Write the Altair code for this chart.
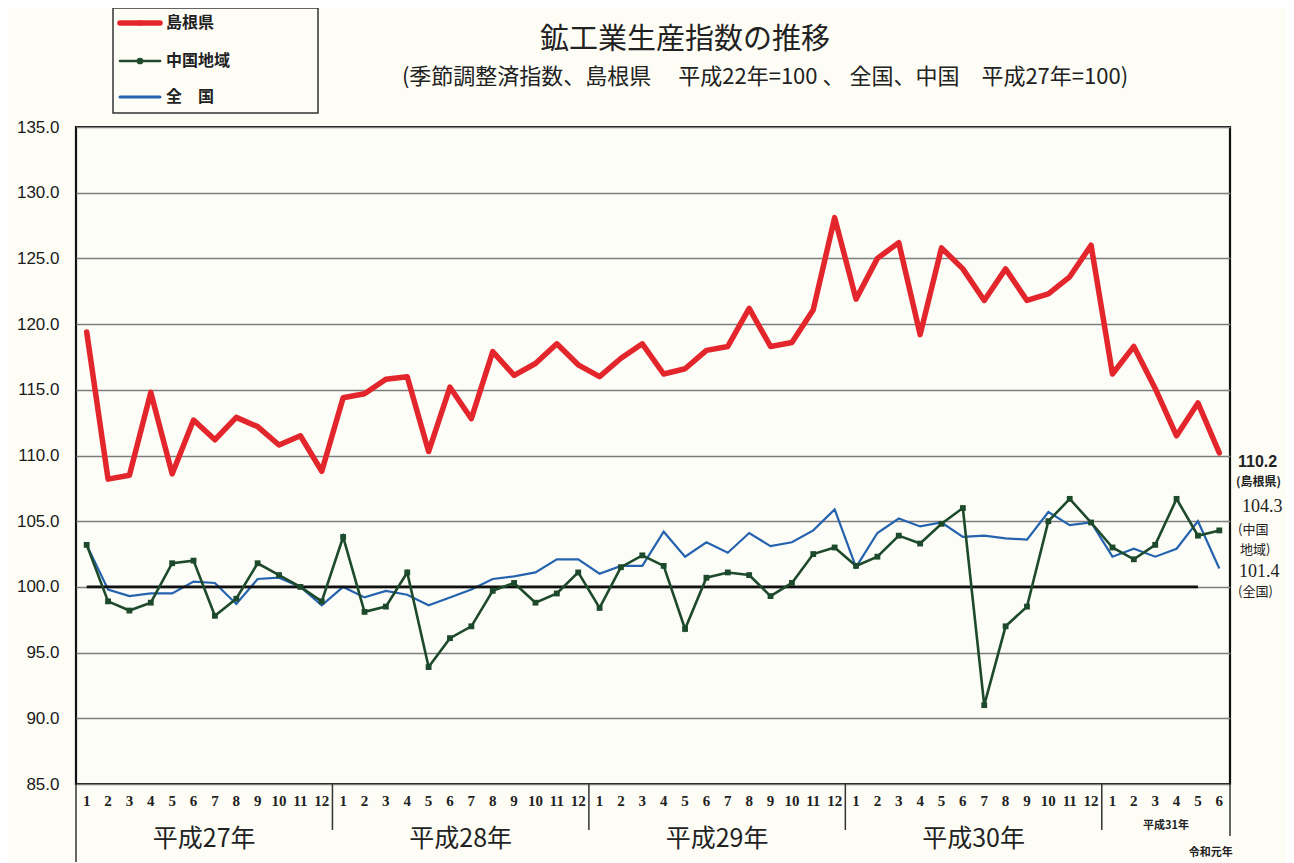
import altair as alt
import pandas as pd

# ---- data ----
shimane = [119.4,108.2,108.5,114.8,108.6,112.7,111.2,112.9,112.2,110.8,111.5,108.8,
           114.4,114.7,115.8,116.0,110.3,115.2,112.8,117.9,116.1,117.0,118.5,116.9,
           116.0,117.4,118.5,116.2,116.6,118.0,118.3,121.2,118.3,118.6,121.1,128.1,
           121.9,125.0,126.2,119.2,125.8,124.2,121.8,124.2,121.8,122.3,123.6,126.0,
           116.2,118.3,115.1,111.5,114.0,110.2]
chugoku = [103.2,98.9,98.2,98.8,101.8,102.0,97.8,99.1,101.8,100.9,100.0,98.9,
           103.8,98.1,98.5,101.1,93.9,96.1,97.0,99.7,100.3,98.8,99.5,101.1,
           98.4,101.5,102.4,101.6,96.8,100.7,101.1,100.9,99.3,100.3,102.5,103.0,
           101.6,102.3,103.9,103.3,104.8,106.0,91.0,97.0,98.5,105.0,106.7,104.9,
           103.0,102.1,103.2,106.7,103.9,104.3]
zenkoku = [103.2,99.8,99.3,99.5,99.5,100.4,100.3,98.7,100.6,100.7,100.0,98.6,
           100.0,99.2,99.7,99.4,98.6,99.2,99.8,100.6,100.8,101.1,102.1,102.1,
           101.0,101.6,101.6,104.2,102.3,103.4,102.6,104.1,103.1,103.4,104.3,105.9,
           101.5,104.1,105.2,104.6,104.9,103.8,103.9,103.7,103.6,105.7,104.7,104.9,
           102.3,102.9,102.3,102.9,105.0,101.4]
month_labels = [str(m) for m in list(range(1, 13)) * 4 + list(range(1, 7))]
series_names = ["島根県", "中国地域", "全国"]
series_colors = ["#e3262b", "#1d4a2b", "#2563ae"]
year_labels = ["平成27年", "平成28年", "平成29年", "平成30年"]
year_centers = [5.5, 17.5, 29.5, 41.5]
year_bounds = [11.5, 23.5, 35.5, 47.5]
y_ticks = [85, 90, 95, 100, 105, 110, 115, 120, 125, 130, 135]
end_notes = ["110.2", "(島根県)", "104.3", "(中国", "地域)", "101.4", "(全国)"]
title_text = "鉱工業生産指数の推移"
subtitle_text = "(季節調整済指数、島根県　  平成22年=100 、  全国、中国　平成27年=100)"

n = len(shimane)
idx = list(range(n))
df_sh = pd.DataFrame({"idx": idx, "v": shimane})
df_ch = pd.DataFrame({"idx": idx, "v": chugoku})
df_ze = pd.DataFrame({"idx": idx, "v": zenkoku})
df_m = pd.DataFrame({"idx": idx, "m": month_labels})

W, H = 1154, 657
xs = alt.Scale(domain=[-0.5, 53.5], nice=False, zero=False)
ys = alt.Scale(domain=[85, 135], nice=False, zero=False)

JP = "Noto Sans CJK JP"

def X(f):
    return alt.X(f, scale=xs, axis=None)

def Y(f):
    return alt.Y(f, scale=ys)

base_y = alt.Y("v:Q", scale=ys,
               axis=alt.Axis(values=y_ticks, format=".1f", ticks=False, domain=False,
                             grid=True, gridColor="#7d7d7d", gridWidth=1.6, title=None,
                             labelFont="Liberation Sans", labelFontSize=17,
                             labelFontWeight=500, labelPadding=17, labelColor="#1a1a1a"))

blue = alt.Chart(df_ze).mark_line(color=series_colors[2], strokeWidth=2.2).encode(
    x=X("idx:Q"), y=base_y)
green = alt.Chart(df_ch).mark_line(color=series_colors[1], strokeWidth=2.6).encode(
    x=X("idx:Q"), y=Y("v:Q"))
green_pts = alt.Chart(df_ch).mark_point(shape="square", filled=True, size=34, opacity=1,
                                        color=series_colors[1]).encode(
    x=X("idx:Q"), y=Y("v:Q"))
red = alt.Chart(df_sh).mark_line(color=series_colors[0], strokeWidth=5.5,
                                 strokeCap="round", strokeJoin="round").encode(
    x=X("idx:Q"), y=Y("v:Q"))

baseline = alt.Chart(pd.DataFrame({"a": [0], "b": [52], "v": [100]})).mark_rule(
    color="#111", strokeWidth=2.6).encode(
    x=X("a:Q"), x2="b:Q", y=Y("v:Q"))

# month tick labels
months = alt.Chart(df_m).mark_text(
    font="Liberation Serif", fontSize=15, fontWeight="bold", color="#222",
    baseline="middle").encode(x=X("idx:Q"), y=alt.value(H + 17), text="m:N")

# year separators below the axis
seps = alt.Chart(pd.DataFrame({"b": year_bounds})).mark_rule(color="#333", strokeWidth=1.5).encode(
    x=X("b:Q"), y=alt.value(H), y2=alt.value(H + 46))
left_sep = alt.Chart(pd.DataFrame({"b": [-0.5]})).mark_rule(color="#333", strokeWidth=1.5).encode(
    x=X("b:Q"), y=alt.value(H), y2=alt.value(H + 78))
right_sep = alt.Chart(pd.DataFrame({"b": [53.5]})).mark_rule(color="#333", strokeWidth=1.5).encode(
    x=X("b:Q"), y=alt.value(H), y2=alt.value(H + 52))

years = alt.Chart(pd.DataFrame({"c": year_centers, "t": year_labels})).mark_text(
    font=JP, fontSize=25, color="#222", baseline="middle").encode(
    x=X("c:Q"), y=alt.value(H + 55), text="t:N")
y31 = alt.Chart(pd.DataFrame({"c": [50.5], "t": ["平成31年"]})).mark_text(
    font=JP, fontSize=11, fontWeight="bold", color="#222").encode(
    x=X("c:Q"), y=alt.value(H + 42), text="t:N")
reiwa = alt.Chart(pd.DataFrame({"c": [52.6], "t": ["令和元年"]})).mark_text(
    font=JP, fontSize=11, fontWeight="bold", color="#222").encode(
    x=X("c:Q"), y=alt.value(H + 69), text="t:N")

# right-side end notes
note_y = [335, 355, 380, 403, 423, 445, 465]
note_size = [16, 12, 18, 13, 13, 18, 13]
note_font = ["Liberation Sans", JP, "Liberation Serif", JP, JP, "Liberation Serif", JP]
note_weight = ["bold", "bold", "normal", "normal", "normal", "normal", "normal"]
note_x = [1162, 1160, 1166, 1162, 1164, 1163, 1162]
notes = []
for t, yy, sz, f, wt, xx in zip(end_notes, note_y, note_size, note_font, note_weight, note_x):
    notes.append(alt.Chart(alt.Data(values=[{}])).mark_text(
        text=t, font=f, fontSize=sz, fontWeight=wt, align="left", baseline="middle",
        color="#222").encode(x=alt.value(xx), y=alt.value(yy)))

# title
title = alt.Chart(alt.Data(values=[{}])).mark_text(
    text=title_text, font=JP, fontSize=29, color="#222", align="center", baseline="middle"
).encode(x=alt.value(609), y=alt.value(-87))
subtitle = alt.Chart(alt.Data(values=[{}])).mark_text(
    text=subtitle_text, font=JP, fontSize=22, color="#222", align="center", baseline="middle"
).encode(x=alt.value(689), y=alt.value(-50))

# legend box
leg_box = alt.Chart(alt.Data(values=[{}])).mark_rect(
    fill="white", fillOpacity=0, stroke="#333", strokeWidth=1.5).encode(
    x=alt.value(37), x2=alt.value(242), y=alt.value(-119), y2=alt.value(-14))
leg_items = []
leg_y = [-104, -66, -30]
leg_w = [5.5, 2.6, 3]
for name, col, yy, w, lab in zip(series_names, series_colors, leg_y, leg_w,
                                  ["島根県", "中国地域", "全　国"]):
    leg_items.append(alt.Chart(alt.Data(values=[{}])).mark_rule(
        color=col, strokeWidth=w, strokeCap="round").encode(
        x=alt.value(44), x2=alt.value(84), y=alt.value(yy)))
    leg_items.append(alt.Chart(alt.Data(values=[{}])).mark_text(
        text=lab, font=JP, fontSize=16, fontWeight="bold", align="left", baseline="middle",
        color="#222").encode(x=alt.value(90), y=alt.value(yy)))
leg_items.append(alt.Chart(alt.Data(values=[{}])).mark_point(
    shape="circle", filled=True, size=30, opacity=1, color=series_colors[0]).encode(
    x=alt.value(64), y=alt.value(leg_y[0])))
leg_items.append(alt.Chart(alt.Data(values=[{}])).mark_point(
    shape="circle", filled=True, size=45, opacity=1, color=series_colors[1]).encode(
    x=alt.value(64), y=alt.value(leg_y[1])))

chart = alt.layer(
    blue, baseline, green, green_pts, red, months,
    seps, left_sep, right_sep, years, y31, reiwa,
    *notes, title, subtitle, leg_box, *leg_items
).properties(
    width=W, height=H,
    autosize=alt.AutoSizeParams(type="none"),
    padding={"left": 68, "top": 119, "right": 56, "bottom": 78},
    background="#fdfdf6"
).configure_view(
    stroke="#111", strokeWidth=2.2, fill="#fdfdf8"
)

chart.save("out.html", embed_options={"renderer": "svg", "actions": False})
